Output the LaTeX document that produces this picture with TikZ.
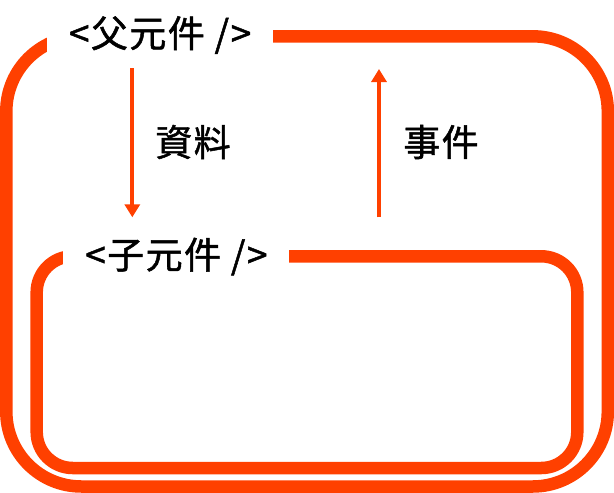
\documentclass[tikz,border=0pt]{standalone}
\usepackage{fontspec}
\setmainfont{Noto Sans CJK TC}[FakeBold=1.3, LetterSpace=4]
\usetikzlibrary{arrows.meta}
\definecolor{accent}{RGB}{255,64,0}
\tikzset{
  frame/.style={draw=accent, line width=12.5pt},
  tagbox/.style={fill=white, minimum width=226pt, minimum height=56pt, inner sep=0pt, font=\fontsize{37}{44}\selectfont},
  lbl/.style={font=\fontsize{37}{44}\selectfont, inner sep=0pt},
  flow/.style={draw=accent, line width=4pt, -{Triangle[width=15pt,length=13pt]}}
}
\begin{document}
\begin{tikzpicture}[x=1pt,y=-1pt]
\useasboundingbox (0,0) rectangle (614,493);
\fill[white] (0,0) rectangle (614,493);
% outer frame
\draw[frame, rounded corners=75pt] (6.3,36.3) rectangle (607.8,486.5);
% inner frame
\draw[frame, rounded corners=36pt] (36.7,256.3) rectangle (577.3,468);
% tag labels (white fill opens the gap in the frame)
\node[tagbox] (parent) at (160,35) {<父元件 />};
\node[tagbox] (child) at (176.3,256.5) {<子元件 />};
% arrows
\coordinate (dataS) at (132.3,68.3);
\coordinate (dataE) at (132.3,217.3);
\coordinate (evS) at (379,217.3);
\coordinate (evE) at (379,69);
\draw[flow] (dataS) -- (dataE);
\draw[flow] (evS) -- (evE);
\node[lbl] (data) at (193,142) {資料};
\node[lbl] (event) at (441,142) {事件};
\end{tikzpicture}
\end{document}
